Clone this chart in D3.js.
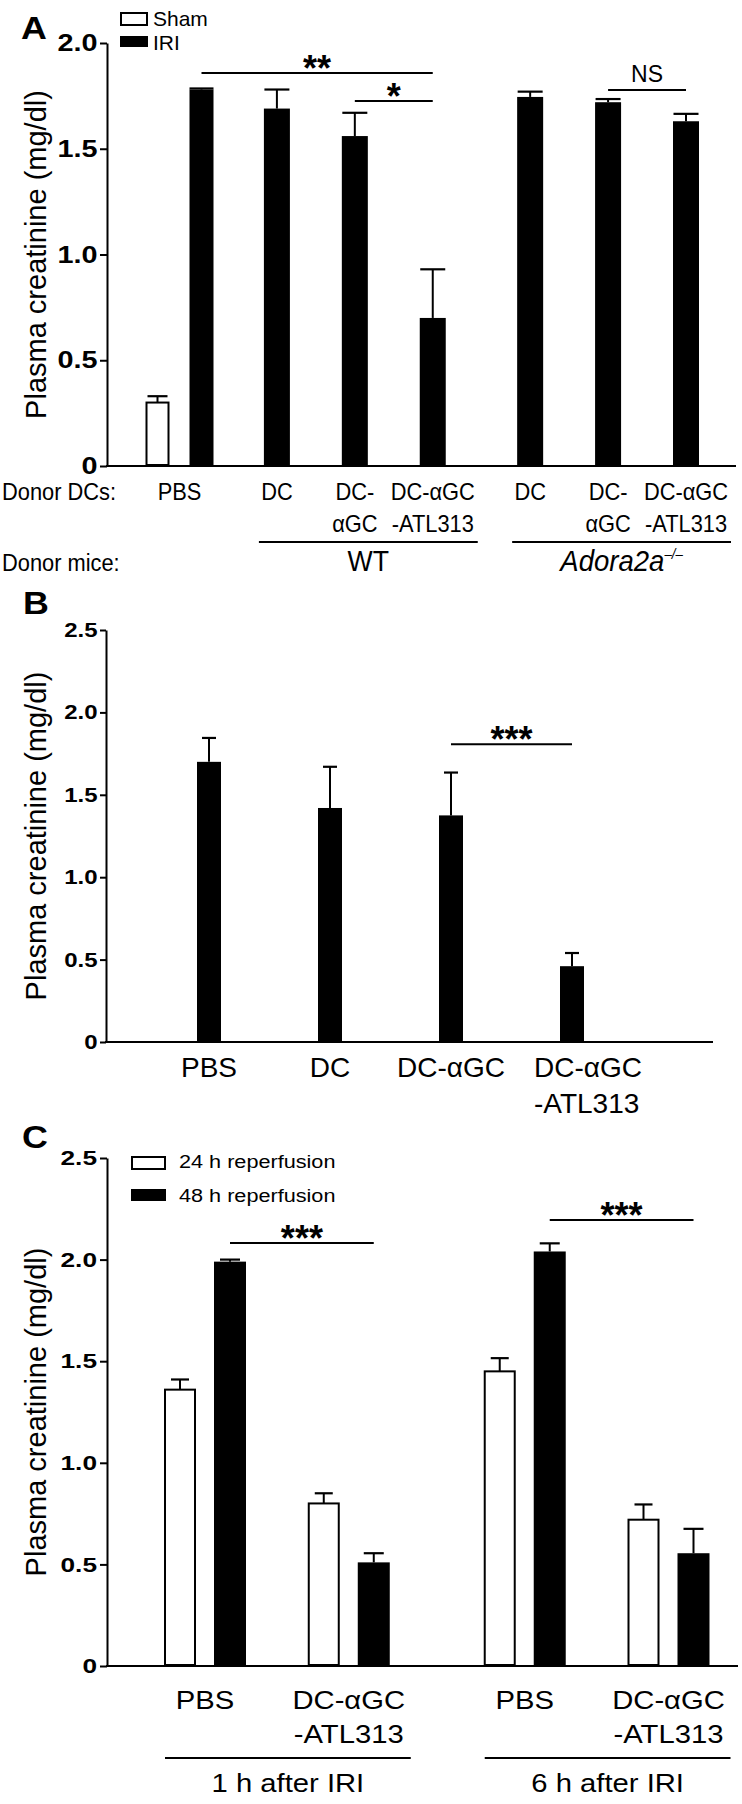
<!DOCTYPE html>
<html><head><meta charset="utf-8">
<script src="https://cdnjs.cloudflare.com/ajax/libs/d3/7.8.5/d3.min.js"></script>
<style>
body{margin:0;background:#fff}
svg{display:block}
text{font-family:"Liberation Sans",Arial,Helvetica,sans-serif;fill:#000}
</style>
</head><body>
<svg id="fig" width="742" height="1804"></svg>
<script>
// ---------- Panel A data ----------
const aCategories = ["PBS","WT DC","WT DC-αGC","WT DC-αGC-ATL313","Adora2a DC","Adora2a DC-αGC","Adora2a DC-αGC-ATL313"];
const aLabelLines = [["PBS"],["DC"],["DC-","αGC"],["DC-αGC","-ATL313"],["DC"],["DC-","αGC"],["DC-αGC","-ATL313"]];
const aDonorMice = ["","WT","WT","WT","Adora2a","Adora2a","Adora2a"];
const aSeries = ["Sham","IRI"];
const aShamMean = [0.30,null,null,null,null,null,null];
const aShamSem  = [0.03,null,null,null,null,null,null];
const aIriMean  = [1.78,1.69,1.56,0.70,1.745,1.72,1.63];
const aIriSem   = [0.005,0.09,0.11,0.23,0.025,0.015,0.035];
const aTicks = [0,0.5,1.0,1.5,2.0];
const aTickLabels = ["0","0.5","1.0","1.5","2.0"];
const aSigFrom = [0,2,5], aSigTo = [3,3,6], aSigLevel = [1.858,1.726,1.778], aSigText = ["**","*","NS"];

// ---------- Panel B data ----------
const bCategories = ["PBS","DC","DC-αGC","DC-αGC-ATL313"];
const bLabelLines = [["PBS"],["DC"],["DC-αGC"],["DC-αGC","-ATL313"]];
const bMean = [1.70,1.42,1.375,0.46];
const bSem  = [0.145,0.25,0.26,0.08];
const bTicks = [0,0.5,1.0,1.5,2.0,2.5];
const bTickLabels = ["0","0.5","1.0","1.5","2.0","2.5"];
const bSigFrom = [2], bSigTo = [3], bSigLevel = [1.807], bSigText = ["***"];

// ---------- Panel C data ----------
const cTimes = ["1 h after IRI","6 h after IRI"];
const cCategories = ["PBS","DC-αGC-ATL313"];
const cLabelLines = [["PBS"],["DC-αGC","-ATL313"]];
const cSeries = ["24 h reperfusion","48 h reperfusion"];
const c24Mean = [1.36,0.80,1.45,0.72];
const c24Sem  = [0.05,0.05,0.065,0.075];
const c48Mean = [1.99,0.51,2.04,0.555];
const c48Sem  = [0.01,0.045,0.04,0.12];
const cTicks = [0,0.5,1.0,1.5,2.0,2.5];
const cTickLabels = ["0","0.5","1.0","1.5","2.0","2.5"];
const cSigFrom = [0,2], cSigTo = [1,3], cSigLevel = [2.082,2.195], cSigText = ["***","***"];

const yLabel = "Plasma creatinine (mg/dl)";

// ---------- helpers ----------
const svg = d3.select("#fig");
svg.append("rect").attr("width",742).attr("height",1804).attr("fill","#fff");

function txt(g, x, y, s, o={}) {
  const t = g.append("text")
    .attr("transform", `translate(${x},${y}) scale(${o.sx||1},1)`)
    .attr("text-anchor", o.anchor||"middle")
    .attr("font-size", o.size||22)
    .attr("font-weight", o.weight||"normal")
    .attr("font-style", o.style||"normal");
  if (s !== null) t.text(s);
  return t;
}
function line(g, x1, y1, x2, y2, w=2) {
  g.append("line").attr("x1",x1).attr("y1",y1).attr("x2",x2).attr("y2",y2)
    .attr("stroke","#000").attr("stroke-width",w);
}
function bar(g, cx, bw, y, v, sem, filled, capW) {
  const top = y(v), base = y(0);
  if (filled) {
    g.append("rect").attr("x",cx-bw/2).attr("y",top).attr("width",bw).attr("height",base-top).attr("fill","#000");
  } else {
    g.append("rect").attr("x",cx-bw/2+1).attr("y",top).attr("width",bw-2).attr("height",base-top-1)
      .attr("fill","#fff").attr("stroke","#000").attr("stroke-width",2);
  }
  const et = y(v+sem);
  line(g, cx, top, cx, et, 2);
  line(g, cx-capW/2, et, cx+capW/2, et, 2.2);
}
function yAxis(g, x, y, ticks, labels, size, sx, tickLen) {
  const ax = g.append("g").attr("transform",`translate(${x},0)`)
    .call(d3.axisLeft(y).tickValues(ticks).tickFormat((d,i)=>labels[i]).tickSize(tickLen).tickSizeOuter(0).tickPadding(1));
  ax.select(".domain").attr("stroke-width",2).attr("stroke","#000");
  ax.selectAll(".tick line").attr("stroke-width",2).attr("stroke","#000");
  ax.selectAll(".tick text").attr("font-size",size).attr("font-weight","bold")
    .attr("font-family",'"Liberation Sans",Arial,sans-serif').attr("fill","#000")
    .attr("transform",`scale(${sx},1)`);
  return ax;
}
function sig(g, x1, x2, yy, label) {
  line(g, x1, yy, x2, yy, 2);
  if (label === "NS") {
    txt(g, (x1+x2)/2, yy-8, label, {size:23});
  } else {
    txt(g, (x1+x2)/2, yy-6+0.387*36, label, {size:36, weight:"bold"});
  }
}

// =============== PANEL A ===============
const gA = svg.append("g");
const yA = d3.scaleLinear().domain([0,2]).range([466,43]);
const aBlocks = Array.from(new Set(aDonorMice));
const aSlot = aCategories.map((c,i)=> i + 0.25*aBlocks.indexOf(aDonorMice[i]));
const xA = d3.scaleLinear().domain([0, d3.max(aSlot)]).range([179.5, 686]);
const aInner = d3.scaleBand().domain(aSeries).range([-34,34]).paddingInner(0.4545);
const aBarW = 26;
function aBarX(i, s) {
  const c = xA(aSlot[i]);
  if (aShamMean[i] === null) return c;
  return c + aInner(s) + aInner.bandwidth()/2;
}
aCategories.forEach((c,i)=>{
  if (aShamMean[i] !== null) {
    bar(gA, aBarX(i,"Sham"), aInner.bandwidth(), yA, aShamMean[i], aShamSem[i], false, 20);
    bar(gA, aBarX(i,"IRI"), aInner.bandwidth(), yA, aIriMean[i], aIriSem[i], true, 24);
  } else {
    bar(gA, aBarX(i,"IRI"), aBarW, yA, aIriMean[i], aIriSem[i], true, 25);
  }
});
yAxis(gA, 107, yA, aTicks, aTickLabels, 24, 1.2, 7);
line(gA, 106, yA(0), 736, yA(0), 2);
txt(gA, 46, (yA(0)+yA(2))/2, null, {size:29}).attr("transform",`translate(46,${(yA(0)+yA(2))/2}) rotate(-90)`).text(yLabel);
txt(gA, 21, 39, "A", {size:32, weight:"bold", anchor:"start", sx:1.12});
// legend
gA.append("rect").attr("x",121).attr("y",13).attr("width",26).attr("height",12).attr("fill","#fff").attr("stroke","#000").attr("stroke-width",2);
gA.append("rect").attr("x",120).attr("y",36).attr("width",28).attr("height",11).attr("fill","#000");
txt(gA, 153, 26, aSeries[0], {size:21, anchor:"start"});
txt(gA, 153, 50, aSeries[1], {size:21, anchor:"start"});
// significance
aSigFrom.forEach((f,k)=>{
  const x1 = aBarX(f,"IRI"), x2 = aBarX(aSigTo[k],"IRI");
  sig(gA, x1, x2, yA(aSigLevel[k]), aSigText[k]);
});
// x labels
txt(gA, 2, 500, "Donor DCs:", {size:24, anchor:"start", sx:0.91});
txt(gA, 2, 571, "Donor mice:", {size:24, anchor:"start", sx:0.91});
aCategories.forEach((c,i)=>{
  aLabelLines[i].forEach((l,j)=> txt(gA, xA(aSlot[i]), 500+32*j, l, {size:24, sx:0.91}));
});
aBlocks.filter(b=>b!=="").forEach(b=>{
  const idx = aDonorMice.map((d,i)=>d===b?i:-1).filter(i=>i>=0);
  const x1 = xA(aSlot[idx[0]])-18, x2 = xA(aSlot[idx[idx.length-1]])+45;
  line(gA, x1, 542, x2, 542, 2);
  if (b === "WT") {
    txt(gA, (x1+x2)/2, 571, "WT", {size:29, sx:0.92});
  } else {
    const t = txt(gA, (x1+x2)/2, 571, null, {size:29, style:"italic", sx:0.95});
    t.append("tspan").text(b);
    t.append("tspan").attr("font-size",14).attr("dy",-12).text("–/–");
  }
});

// =============== PANEL B ===============
const gB = svg.append("g");
const yB = d3.scaleLinear().domain([0,2.5]).range([1042,630]);
const xB = d3.scalePoint().domain(bCategories).range([209,572]);
bCategories.forEach((c,i)=> bar(gB, xB(c), 24, yB, bMean[i], bSem[i], true, 14));
yAxis(gB, 106, yB, bTicks, bTickLabels, 20, 1.2, 6);
line(gB, 105, yB(0), 713, yB(0), 2);
txt(gB, 46, 836, null, {size:29}).attr("transform","translate(46,836) rotate(-90)").text(yLabel);
txt(gB, 23, 614, "B", {size:32, weight:"bold", anchor:"start", sx:1.12});
bSigFrom.forEach((f,k)=> sig(gB, xB(bCategories[f]), xB(bCategories[bSigTo[k]]), yB(bSigLevel[k]), bSigText[k]));
bCategories.forEach((c,i)=>{
  const lines = bLabelLines[i];
  lines.forEach((l,j)=>{
    if (lines.length > 1) txt(gB, xB(c)-38, 1077+36*j, l, {size:28, anchor:"start"});
    else txt(gB, xB(c), 1077, l, {size:28});
  });
});

// =============== PANEL C ===============
const gC = svg.append("g");
const yC = d3.scaleLinear().domain([0,2.5]).range([1666,1158]);
const cGroups = [];
cTimes.forEach((t,ti)=> cCategories.forEach((c,ci)=> cGroups.push({t:ti, c:ci, slot: ti*cCategories.length + ci + 0.224*ti})));
const xC = d3.scaleLinear().domain([0, d3.max(cGroups, d=>d.slot)]).range([205, 668.5]);
const cInner = d3.scaleBand().domain(cSeries).range([-41,41]).paddingInner(0.36);
const cbw = cInner.bandwidth();
const cX = (gi, s) => xC(cGroups[gi].slot) + cInner(s) + cbw/2;
cGroups.forEach((g,gi)=>{
  bar(gC, cX(gi,cSeries[0]), cbw, yC, c24Mean[gi], c24Sem[gi], false, 18);
  bar(gC, cX(gi,cSeries[1]), cbw, yC, c48Mean[gi], c48Sem[gi], true, 20);
});
yAxis(gC, 107, yC, cTicks, cTickLabels, 21, 1.25, 7);
line(gC, 106, yC(0), 738, yC(0), 2);
txt(gC, 46, 1412, null, {size:29}).attr("transform","translate(46,1412) rotate(-90)").text(yLabel);
txt(gC, 22, 1148, "C", {size:32, weight:"bold", anchor:"start", sx:1.12});
// legend
gC.append("rect").attr("x",132).attr("y",1157).attr("width",33).attr("height",12).attr("fill","#fff").attr("stroke","#000").attr("stroke-width",2);
gC.append("rect").attr("x",131).attr("y",1189).attr("width",35).attr("height",12).attr("fill","#000");
txt(gC, 179, 1168, cSeries[0], {size:19, anchor:"start", sx:1.14});
txt(gC, 179, 1202, cSeries[1], {size:19, anchor:"start", sx:1.14});
cSigFrom.forEach((f,k)=> sig(gC, cX(f,cSeries[1]), cX(cSigTo[k],cSeries[1]), yC(cSigLevel[k]), cSigText[k]));
cGroups.forEach((g,gi)=>{
  cLabelLines[g.c].forEach((l,j)=> txt(gC, xC(g.slot), 1709+34*j, l, {size:25, sx:1.17}));
});
cTimes.forEach((t,ti)=>{
  const gs = cGroups.filter(g=>g.t===ti);
  const x1 = xC(gs[0].slot)-40, x2 = xC(gs[gs.length-1].slot)+62;
  line(gC, x1, 1758, x2, 1758, 2);
  txt(gC, (x1+x2)/2, 1792, t, {size:25, sx:1.17});
});
</script>
</body></html>
